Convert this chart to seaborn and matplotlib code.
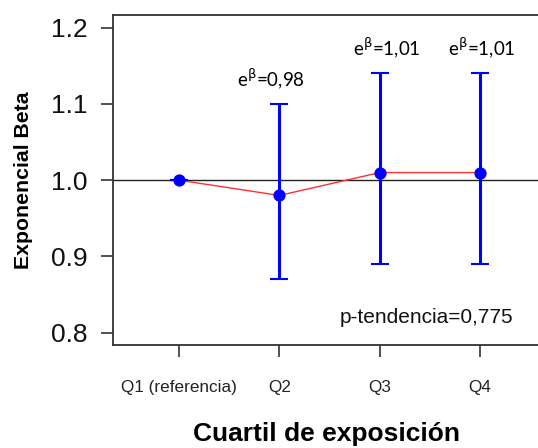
import matplotlib
matplotlib.use("Agg")
import matplotlib.pyplot as plt
import seaborn as sns
import pandas as pd
import numpy as np

# Data
categories = ["Q1 (referencia)", "Q2", "Q3", "Q4"]
exp_beta = [1.00, 0.98, 1.01, 1.01]
ci_low = [1.00, 0.87, 0.89, 0.89]
ci_high = [1.00, 1.10, 1.14, 1.14]
labels = [None, "0,98", "1,01", "1,01"]
p_trend = "p-tendencia=0,775"
y_ticks = [0.8, 0.9, 1.0, 1.1, 1.2]

sns.set_theme(style="ticks")
plt.rcParams["font.family"] = ["Liberation Sans", "DejaVu Sans"]
plt.rcParams["mathtext.fontset"] = "custom"
plt.rcParams["mathtext.rm"] = "DejaVu Sans"
plt.rcParams["mathtext.it"] = "DejaVu Sans"

pos = np.arange(1, len(categories) + 1)
df = pd.DataFrame({"pos": pos, "val": exp_beta, "lo": ci_low, "hi": ci_high})

fig = plt.figure(figsize=(5.38, 4.48), dpi=100)
ax = fig.add_axes([0.210, 0.2299, 0.792, 0.7366])

ax.axhline(1.0, color="#222222", lw=1.0, zorder=1)
sns.lineplot(data=df, x="pos", y="val", color="#ff3030", lw=1.0, ax=ax, zorder=2)
err = np.array([df["val"] - df["lo"], df["hi"] - df["val"]])
ax.errorbar(df["pos"], df["val"], yerr=err, fmt="none", ecolor="#0000ff",
            elinewidth=2.2, capsize=6.8, capthick=1.5, zorder=3)
sns.scatterplot(data=df, x="pos", y="val", color="#0000ff", s=78,
                edgecolor="#0000ff", linewidth=0, ax=ax, zorder=4)

x_off = [0, -6, 5, 1]
for i, lab in enumerate(labels):
    if lab is None:
        continue
    ax.annotate(r"e$^{\mathrm{\beta}}$=" + lab, xy=(pos[i], ci_high[i]),
                xytext=(x_off[i], 13), textcoords="offset points",
                ha="center", va="baseline", fontsize=13.5,
                family=["Lato", "DejaVu Sans"], color="black")

ax.text(0.532, 0.067, p_trend, transform=ax.transAxes, ha="left",
        va="baseline", fontsize=15, color="#111111")

ax.set_xlim(0.34, 4.59)
ax.set_ylim(0.7838, 1.2167)
ax.set_xticks(pos)
ax.set_xticklabels(categories, fontsize=12.3)
ax.set_yticks(y_ticks)
ax.set_yticklabels([f"{v:.1f}" for v in y_ticks], fontsize=19)
ax.tick_params(axis="x", length=8.5, width=1.2, pad=17, colors="#333333",
               labelcolor="#222222")
ax.tick_params(axis="y", length=9, width=1.2, pad=9, colors="#333333",
               labelcolor="#111111")

ax.set_xlabel("Cuartil de exposición", fontsize=19, fontweight="bold",
              labelpad=19, color="black")
ax.set_ylabel("Exponencial Beta", fontsize=15.3, fontweight="bold",
              labelpad=13, color="black")

for s in ["left", "top", "bottom"]:
    ax.spines[s].set_color("#333333")
    ax.spines[s].set_linewidth(1.3)
ax.spines["right"].set_visible(False)
ax.set_facecolor("white")
fig.patch.set_facecolor("white")

fig.savefig("out.png", dpi=100)
